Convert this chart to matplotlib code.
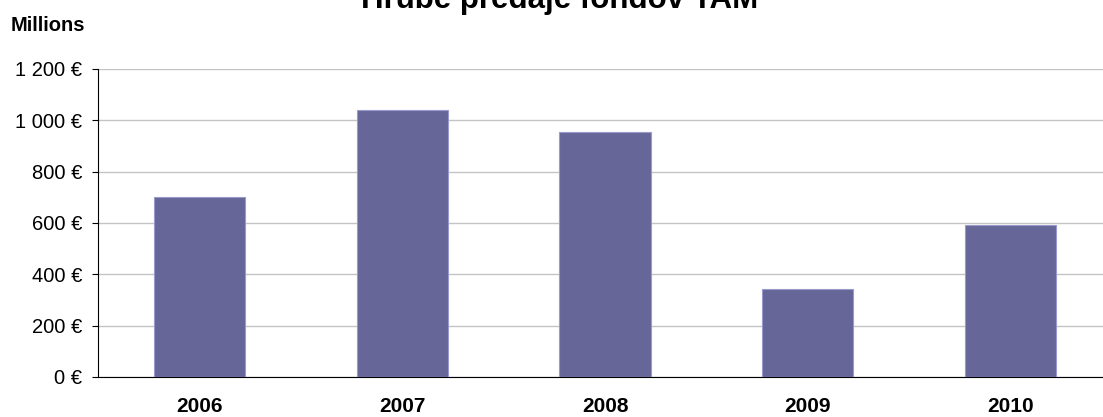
import matplotlib
matplotlib.use("Agg")
import matplotlib.pyplot as plt
from matplotlib.ticker import FuncFormatter

plt.rcParams['font.family'] = ['Liberation Sans', 'DejaVu Sans']

# Data (millions EUR)
years = ["2006", "2007", "2008", "2009", "2010"]
sales = [702, 1041, 955, 343, 593]
y_ticks = [0, 200, 400, 600, 800, 1000, 1200]

fig = plt.figure(figsize=(11.03, 4.17), dpi=100)
ax = fig.add_axes([98 / 1103, 1 - 377 / 417, (1112 - 98) / 1103, (377 - 69) / 417])

ax.bar(range(len(years)), sales, width=0.45, color="#666699",
       edgecolor="#9a9acc", linewidth=0.8, zorder=3)

ax.set_xlim(-0.5, len(years) - 0.5)
ax.set_ylim(0, 1200)
ax.set_yticks(y_ticks)
ax.yaxis.set_major_formatter(FuncFormatter(lambda v, p: "{:,} €".format(int(v)).replace(",", " ")))
ax.set_xticks(range(len(years)))
ax.set_xticklabels(years, fontsize=15, fontweight="bold")
ax.tick_params(axis="x", length=0, pad=14.5)
ax.tick_params(axis="y", length=4.5, direction="out", labelsize=14.5, pad=7)

ax.grid(axis="y", color="#c4c4c4", linewidth=1, zorder=0)
for s in ["top", "right"]:
    ax.spines[s].set_visible(False)
ax.spines["left"].set_color("black")
ax.spines["bottom"].set_color("black")

# title sits partly above the top edge, as in the original
fig.text(560 / 1103, 1 - 8 / 417, "Hrubé predaje fondov TAM", ha="center", va="baseline",
         fontsize=22.5, fontweight="bold")
fig.text(11 / 1103, 1 - 31 / 417, "Millions", ha="left", va="baseline",
         fontsize=14.5, fontweight="bold")

fig.savefig("out.png", dpi=100)
